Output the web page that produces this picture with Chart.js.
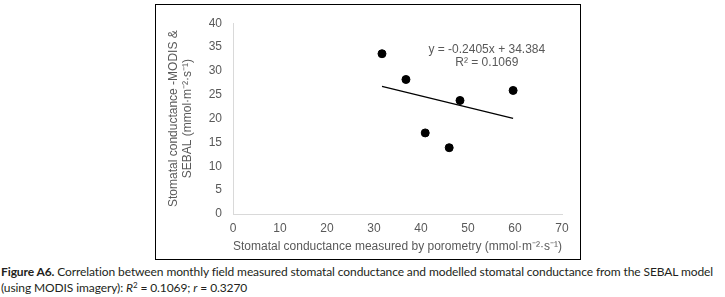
<!DOCTYPE html>
<html>
<head>
<meta charset="utf-8">
<script src="https://cdn.jsdelivr.net/npm/chart.js@4"></script>
<style>
  body { margin: 0; width: 725px; height: 297px; background: #fff; overflow: hidden; position: relative; }
  #box { position: absolute; left: 155px; top: 4px; width: 426px; height: 256px; border: 1px solid #000; box-sizing: border-box; }
  #chart { display: block; }
  #caption { position: absolute; left: 1px; top: 264px; font-family: Lato, sans-serif; font-size: 12px; letter-spacing: -0.1px; line-height: 16px; color: #231f20; white-space: nowrap; }
  #caption sup { font-size: 8px; line-height: 0; vertical-align: 4px; }
</style>
</head>
<body>
<div id="box"><canvas id="chart" width="424" height="254"></canvas></div>
<div id="caption"><b>Figure A6.</b> Correlation between monthly field measured stomatal conductance and modelled stomatal conductance from the SEBAL model<br>(using MODIS imagery): <i>R</i><sup>2</sup> = 0.1069; <i>r</i> = 0.3270</div>
<script>
// porometry (x) vs SEBAL/MODIS (y), mmol m-2 s-1
const measured = [31.7, 36.8, 59.6, 48.3, 40.9, 46.0]
const modelled = [33.6, 28.2, 25.9, 23.8, 17.0, 13.9]

// linear trendline as printed on the chart
const trendSlope = -0.2405
const trendIntercept = 34.384
const trendLabel = ['y = -0.2405x + 34.384', 'R\u00b2 = 0.1069']

const xTicks = [0, 10, 20, 30, 40, 50, 60, 70]
const yTicks = [0, 5, 10, 15, 20, 25, 30, 35, 40]

const grey = '#595959'
const font = { family: 'Liberation Sans, Arial', size: 12 }

const points = measured.map((x, i) => ({ x, y: modelled[i] }))
const xMin = Math.min(...measured)
const xMax = Math.max(...measured)
const trend = [xMin, xMax].map(x => ({ x, y: trendSlope * x + trendIntercept }))

const equationPlugin = {
  id: 'equation',
  afterDatasetsDraw(chart) {
    const { ctx, scales: { x, y } } = chart
    ctx.save()
    ctx.font = '12px "Liberation Sans", Arial'
    ctx.fillStyle = grey
    ctx.textAlign = 'center'
    ctx.textBaseline = 'middle'
    const px = x.getPixelForValue(54)
    ctx.fillText(trendLabel[0], px, y.getPixelForValue(34.4))
    ctx.fillText(trendLabel[1], px, y.getPixelForValue(31.7))
    ctx.restore()
  }
}

const ctx = document.getElementById('chart').getContext('2d')

new Chart(ctx, {
  type: 'scatter',
  data: {
    datasets: [
      {
        label: 'Monthly',
        data: points,
        backgroundColor: '#000',
        borderColor: '#000',
        pointRadius: 4,
        pointHoverRadius: 4
      },
      {
        type: 'line',
        label: 'Linear',
        data: trend,
        borderColor: '#000',
        borderWidth: 1.2,
        pointRadius: 0,
        fill: false
      }
    ]
  },
  options: {
    responsive: false,
    animation: false,
    layout: { padding: { top: 16, right: 18, bottom: 0, left: 0 } },
    plugins: {
      legend: { display: false },
      tooltip: { enabled: false }
    },
    scales: {
      x: {
        type: 'linear',
        min: 0,
        max: 70,
        afterBuildTicks: (scale) => { scale.ticks = xTicks.map(value => ({ value })) },
        afterFit: (scale) => { scale.height = 45 },
        grid: { display: false, drawTicks: false },
        border: { display: true, color: '#d9d9d9', width: 1 },
        ticks: { color: grey, font, padding: 7 },
        title: {
          display: true,
          text: 'Stomatal conductance measured by porometry (mmol\u00b7m\u207b\u00b2\u00b7s\u207b\u00b9)',
          color: grey,
          font,
          padding: { top: 0, bottom: 5 }
        }
      },
      y: {
        type: 'linear',
        min: 0,
        max: 40,
        afterBuildTicks: (scale) => { scale.ticks = yTicks.map(value => ({ value })) },
        afterFit: (scale) => { scale.width = 77 },
        grid: { display: false, drawTicks: false },
        border: { display: true, color: '#d9d9d9', width: 1 },
        ticks: { color: grey, font, padding: 11 },
        title: {
          display: true,
          text: ['Stomatal conductance -MODIS &', 'SEBAL (mmol\u00b7m\u207b\u00b2\u00b7s\u207b\u00b9)'],
          color: grey,
          font,
          padding: { top: 10, bottom: 0 }
        }
      }
    }
  },
  plugins: [equationPlugin]
})
</script>
</body>
</html>
